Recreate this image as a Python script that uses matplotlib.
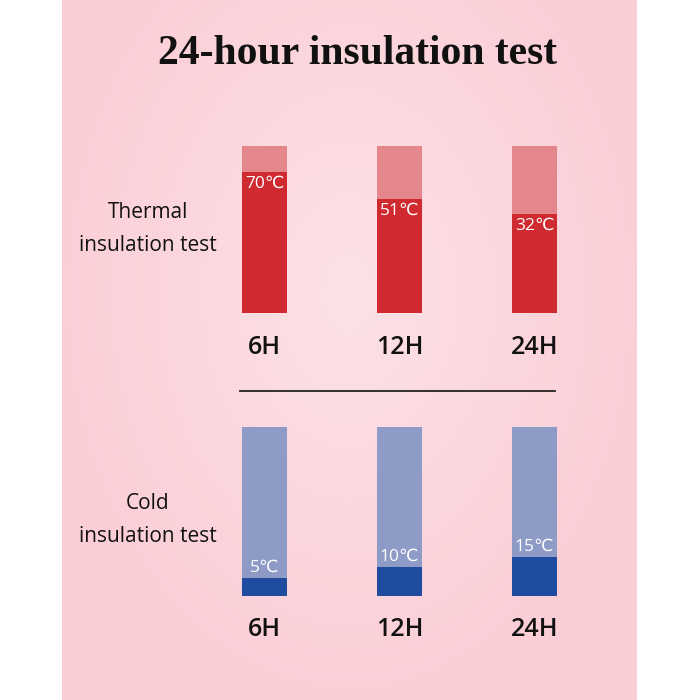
import numpy as np
import matplotlib
matplotlib.use("Agg")
import matplotlib.pyplot as plt

# ---- data ----
hours = ["6H", "12H", "24H"]
hot_temps = [70, 51, 32]          # °C labels
hot_fill_pct = [84.4, 68.3, 59.3]  # fill level (% of bar)
cold_temps = [5, 10, 15]
cold_fill_pct = [10.7, 17.2, 23.1]
title = "24-hour insulation test"
hot_label = "Thermal\ninsulation test"
cold_label = "Cold\ninsulation test"

W = H = 700
fig = plt.figure(figsize=(7, 7), dpi=100, facecolor="white")

def fx(px):
    return px / W

def fy(py):
    return 1 - py / H

# background with soft radial gradient
bg = fig.add_axes([fx(62), 0, fx(575), 1])
yy, xx = np.mgrid[0:1:300j, 0:1:300j]
r = np.sqrt(((xx - 0.5) / 0.7) ** 2 + ((yy - 0.42) / 0.8) ** 2)
r = np.clip(r / 0.75, 0, 1)
c_center = np.array([252, 226, 230]) / 255
c_edge = np.array([251, 206, 214]) / 255
img = c_center[None, None, :] * (1 - r[..., None]) + c_edge[None, None, :] * r[..., None]
bg.imshow(img, aspect="auto", extent=[0, 1, 0, 1], origin="upper")
bg.set_axis_off()

x = np.arange(len(hours))
bw = 45 / 135

def panel(top_px, bot_px, fills, temps, c_light, c_dark, hot):
    ax = fig.add_axes([fx(197), fy(bot_px), fx(405), (bot_px - top_px) / H])
    ax.set_xlim(-0.5, 2.5)
    ax.set_ylim(0, 100)
    ax.patch.set_alpha(0)
    ax.set_axis_off()
    ax.bar(x, [100] * 3, width=bw, color=c_light, zorder=1)
    ax.bar(x, fills, width=bw, color=c_dark, zorder=2)
    for xi, f, t in zip(x, fills, temps):
        if hot:
            ax.annotate(f"{t}\u2103", (xi, f), xytext=(0, -3), textcoords="offset points",
                        ha="center", va="top", color="white", fontsize=12.5,
                        family=["Open Sans", "DejaVu Sans"], zorder=3)
        else:
            ax.annotate(f"{t}\u2103", (xi, f), xytext=(0, 1.5), textcoords="offset points",
                        ha="center", va="bottom", color="white", fontsize=12.5,
                        family=["Open Sans", "DejaVu Sans"], zorder=3)
    return ax

panel(146, 313, hot_fill_pct, hot_temps, "#E3878D", "#CF2A30", True)
panel(427, 596, cold_fill_pct, cold_temps, "#8D9BC6", "#1F4C9E", False)

# hour labels
for i, h in enumerate(hours):
    cx = 264.5 + 135 * i
    fig.text(fx(cx), fy(348), h, ha="center", va="center", fontsize=18,
             family="Open Sans", fontweight="semibold", color="#111111")
    fig.text(fx(cx), fy(630), h, ha="center", va="center", fontsize=18,
             family="Open Sans", fontweight="semibold", color="#111111")

# divider line
fig.add_artist(plt.Line2D([fx(240), fx(555)], [fy(391), fy(391)], color="#222222", lw=1.3))

# side labels
fig.text(fx(148), fy(229), hot_label, ha="center", va="center", fontsize=15,
         family="Open Sans", color="#111111", linespacing=1.7)
fig.text(fx(148), fy(520), cold_label, ha="center", va="center", fontsize=15,
         family="Open Sans", color="#111111", linespacing=1.7)

# title
fig.text(fx(357), fy(54), title, ha="center", va="center", fontsize=30,
         family="Liberation Serif", fontweight="bold", color="#111111")

fig.savefig("out.png", dpi=100, facecolor="white")
